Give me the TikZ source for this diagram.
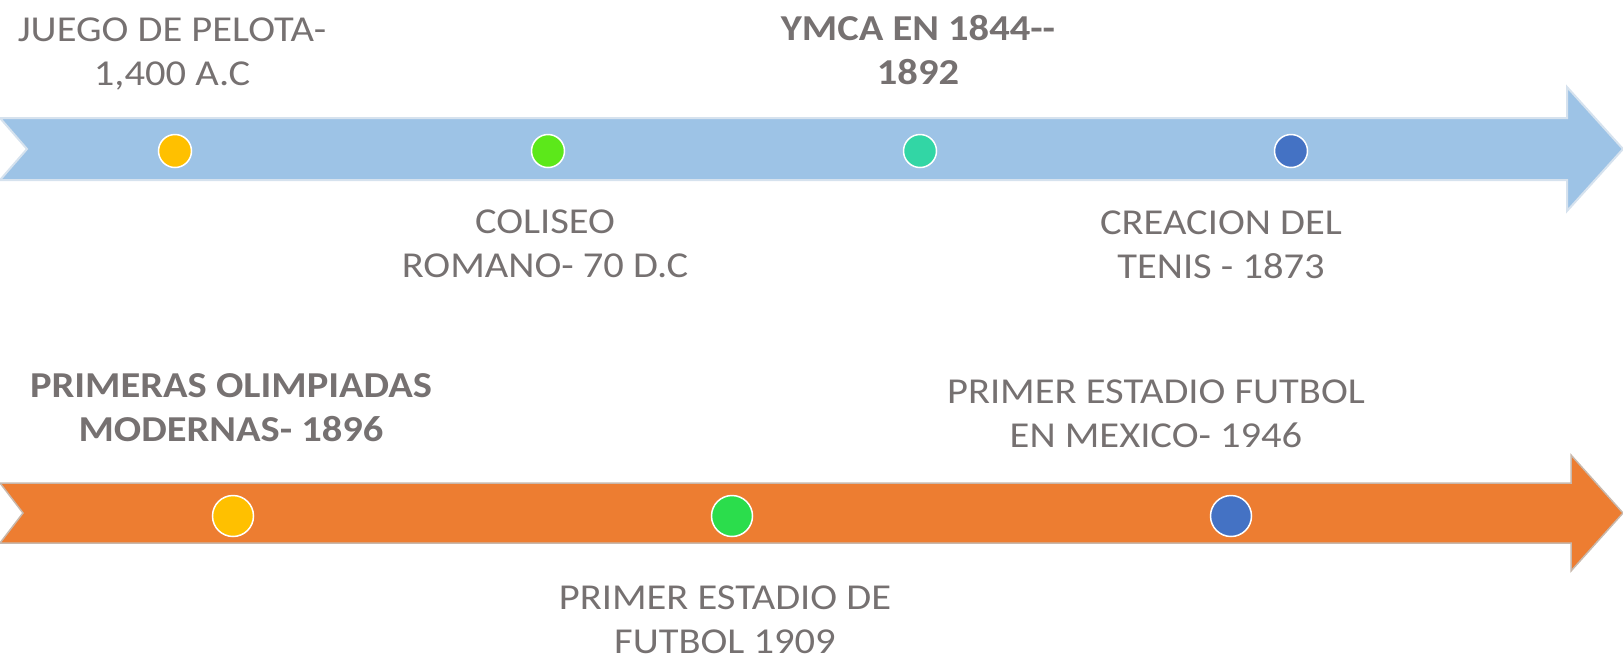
\documentclass[tikz,border=0pt]{standalone}
\usepackage{fontspec}
\setmainfont{Carlito}[FakeStretch=1.11]
\definecolor{txtgray}{HTML}{767171}
\definecolor{bandblue}{HTML}{9DC3E6}
\definecolor{bandblueedge}{HTML}{D6E2EE}
\definecolor{bandorange}{HTML}{ED7D31}
\definecolor{bandorangeedge}{HTML}{C8B8AC}
\definecolor{dotyellow}{HTML}{FFC000}
\definecolor{dotlime}{HTML}{5CE81A}
\definecolor{dotteal}{HTML}{32D6A5}
\definecolor{dotblue}{HTML}{4472C4}
\definecolor{dotgreen}{HTML}{2BDD4C}
\tikzset{
  lbl/.style={text=txtgray, align=center, inner sep=0pt, anchor=north,
    font=\fontsize{36.5}{44}\selectfont},
  lblbold/.style={lbl, font=\fontsize{36.5}{44}\selectfont\bfseries},
  dotsmall/.style={circle, draw=white, line width=1.5pt, minimum size=33pt, inner sep=0pt},
  dotbig/.style={circle, draw=white, line width=1.5pt, minimum size=41pt, inner sep=0pt},
}
\begin{document}
\begin{tikzpicture}[x=1pt,y=-1pt]
\useasboundingbox (0,0) rectangle (1623,657);
% blue band
\fill[bandblue, draw=bandblueedge, line width=2pt]
  (0,118) -- (1567,118) -- (1567,87) -- (1623,149) -- (1567,211) -- (1567,180)
  -- (0,180) -- (27,149) -- cycle;
% orange band
\fill[bandorange, draw=bandorangeedge, line width=1.5pt]
  (0,483) -- (1571,483) -- (1571,455) -- (1623,513) -- (1571,571) -- (1571,543)
  -- (0,543) -- (23,513) -- cycle;
% dots top
\node[dotsmall, fill=dotyellow] (d1) at (175,151) {};
\node[dotsmall, fill=dotlime] (d2) at (548,151) {};
\node[dotsmall, fill=dotteal] (d3) at (920,151) {};
\node[dotsmall, fill=dotblue] (d4) at (1291,151) {};
% dots bottom
\node[dotbig, fill=dotyellow] (e1) at (233,516) {};
\node[dotbig, fill=dotgreen] (e2) at (732,516) {};
\node[dotbig, fill=dotblue] (e3) at (1231,516) {};
% labels top
\node[lbl] (t1) at (172,18) {JUEGO DE PELOTA-\\1,400 A.C};
\node[lbl] (t2) at (545,210) {COLISEO\\ROMANO- 70 D.C};
\node[lblbold] (t3) at (918,15) {YMCA EN 1844-{}-\\1892};
\node[lbl] (t4) at (1221,211) {CREACION DEL\\TENIS - 1873};
% labels bottom
\node[lblbold] (b1) at (231,373) {PRIMERAS OLIMPIADAS\\MODERNAS- 1896};
\node[lbl] (b2) at (725,586) {PRIMER ESTADIO DE\\FUTBOL 1909};
\node[lbl] (b3) at (1156,380) {PRIMER ESTADIO FUTBOL\\EN MEXICO- 1946};
\end{tikzpicture}
\end{document}
